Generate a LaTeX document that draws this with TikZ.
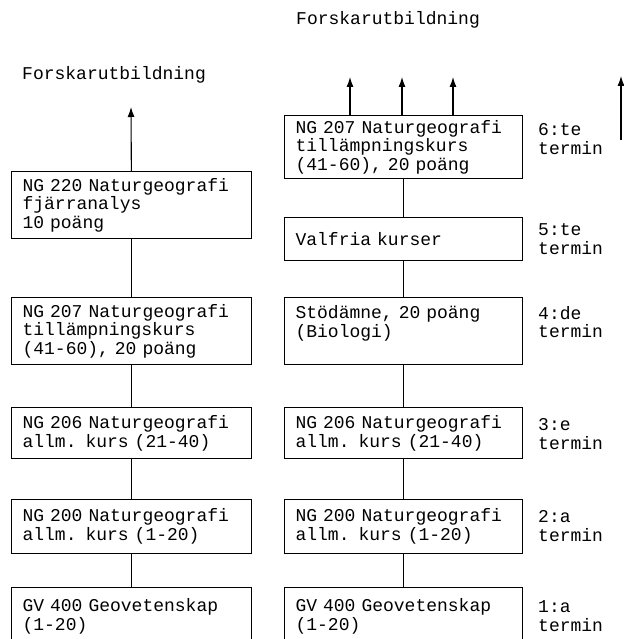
\documentclass[tikz,border=0pt]{standalone}
\usepackage{fontspec}
\setmonofont{Liberation Mono}
\usetikzlibrary{positioning,arrows.meta}
\newcommand{\coursefont}{\fontsize{18}{18.6}\selectfont\ttfamily}

\begin{document}
\begin{tikzpicture}[
x=1pt,
y=-1pt,
course/.style={
  draw,
  line width=1.1pt,
  anchor=north west,
  align=left,
  text width=218pt,
  inner xsep=11pt,
  inner ysep=4pt,
  font=\coursefont
  },
sem/.style={
  anchor=west,
  align=left,
  inner sep=0pt,
  font=\coursefont
  },
link/.style={
  line width=1.1pt
  },
>={Latex[length=10pt,width=7pt]}
]
\useasboundingbox (0,0) rectangle (623,639);

% left column
\node[sem] (forskL) at (22,75) {Forskarutbildning};
\node[course,minimum height=67pt] (l5) at (11,171) {NG 220 Naturgeografi\\fjärranalys\\10 poäng};
\node[course,minimum height=67pt] (l4) at (11,297) {NG 207 Naturgeografi\\tillämpningskurs\\(41-60), 20 poäng};
\node[course,minimum height=51pt] (l3) at (11,407) {NG 206 Naturgeografi\\allm. kurs (21-40)};
\node[course,minimum height=54pt] (l2) at (11,499) {NG 200 Naturgeografi\\allm. kurs (1-20)};
\node[course,minimum height=58pt] (l1) at (11,587) {GV 400 Geovetenskap\\(1-20)};

% right column
\node[sem] (forskR) at (296,20) {Forskarutbildning};
\node[course,minimum height=63pt,text width=216pt] (r6) at (284,115) {NG 207 Naturgeografi\\tillämpningskurs\\(41-60), 20 poäng};
\node[course,minimum height=43pt,text width=216pt] (r5) at (284,217) {Valfria kurser};
\node[course,minimum height=67pt,text width=216pt] (r4) at (284,297) {Stödämne, 20 poäng\\(Biologi)\\\mbox{}};
\node[course,minimum height=51pt,text width=216pt] (r3) at (284,407) {NG 206 Naturgeografi\\allm. kurs (21-40)};
\node[course,minimum height=54pt,text width=216pt] (r2) at (284,499) {NG 200 Naturgeografi\\allm. kurs (1-20)};
\node[course,minimum height=58pt,text width=216pt] (r1) at (284,587) {GV 400 Geovetenskap\\(1-20)};

% terminer
\node[sem] (t6) at (538,139) {6:te\\termin};
\node[sem] (t5) at (538,239) {5:te\\termin};
\node[sem] (t4) at (538,322) {4:de\\termin};
\node[sem] (t3) at (538,434) {3:e\\termin};
\node[sem] (t2) at (538,526) {2:a\\termin};
\node[sem] (t1) at (538,616) {1:a\\termin};

\coordinate (ltip) at (131,107);
\coordinate (rtip1) at (350,77);
\coordinate (rtip2) at (402,77);
\coordinate (rtip3) at (453,77);
\coordinate (edgetop) at (621,76);
\coordinate (edgebot) at (621,140);

\foreach \a/\b in {l1/l2,l2/l3,l3/l4,l4/l5,r1/r2,r2/r3,r3/r4,r4/r5,r5/r6}
  \draw[link] (\a) -- (\b);

\draw[link,->] (l5) -- (ltip);
\foreach \t in {rtip1,rtip2,rtip3}
  \draw[link,->] (r6.north -| \t) -- (\t);
\draw[link,->] (edgebot) -- (edgetop);

\end{tikzpicture}
\end{document}
